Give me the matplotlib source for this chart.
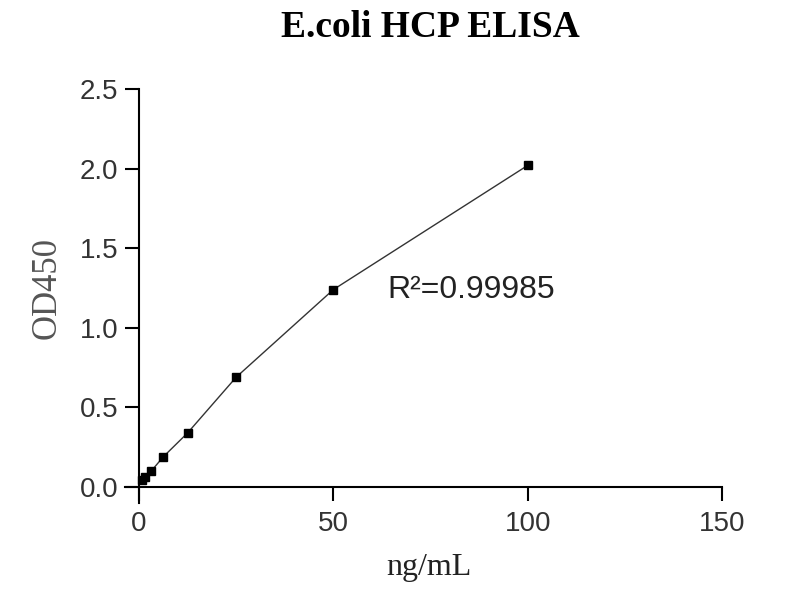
import matplotlib
matplotlib.use("Agg")
import matplotlib.pyplot as plt

# Data
conc = [0.78, 1.56, 3.125, 6.25, 12.5, 25, 50, 100]
od450 = [0.045, 0.065, 0.10, 0.19, 0.34, 0.69, 1.24, 2.02]
x_ticks = [0, 50, 100, 150]
y_ticks = [0.0, 0.5, 1.0, 1.5, 2.0, 2.5]
title = "E.coli HCP ELISA"
xlabel = "ng/mL"
ylabel = "OD450"
r2_text = "R²=0.99985"

fig = plt.figure(figsize=(8, 6), dpi=100)
ax = fig.add_axes([125/800, 1-503/600, (722-125)/800, (503-89)/600])

ax.plot(conc, od450, color='#333333', lw=1.0, marker='s', markersize=5.8,
        markerfacecolor='black', markeredgecolor='black', zorder=3)

ax.set_xlim(-3.6, 150)
ax.set_ylim(-0.1, 2.5)
ax.spines['left'].set_position(('data', 0))
ax.spines['bottom'].set_position(('data', 0))
ax.spines['top'].set_visible(False)
ax.spines['right'].set_visible(False)
for s in ('left', 'bottom'):
    ax.spines[s].set_linewidth(1.5)
    ax.spines[s].set_color('black')
ax.spines['left'].set_bounds(-0.1, 2.5)
ax.spines['bottom'].set_bounds(-3.6, 150)

ax.set_xticks(x_ticks)
ax.set_yticks(y_ticks)
ax.set_xticklabels([str(v) for v in x_ticks])
ax.set_yticklabels([f"{v:.1f}" for v in y_ticks])
ax.tick_params(direction='out', length=10, width=1.5, colors='black',
               labelsize=20, labelcolor='#333333', pad=5)
ax.tick_params(axis='x', pad=7)
for lab in ax.get_xticklabels() + ax.get_yticklabels():
    lab.set_fontfamily('Liberation Sans')

ax.text(64, 1.19, r2_text, fontsize=23, family='Liberation Sans',
        color='#222222', ha='left', va='baseline')

fig.text(430/800, 1-37/600, title, fontsize=27, fontweight='bold',
         family='Liberation Serif', ha='center', va='baseline', color='black')
fig.text(429/800, 1-575/600, xlabel, fontsize=23, family='Liberation Serif',
         ha='center', va='baseline', color='#222222')
fig.text(47/800, 1-288/600, ylabel, fontsize=25, family='Liberation Serif',
         ha='center', va='center', rotation=90, color='#555555')

fig.savefig('out.png', dpi=100)
